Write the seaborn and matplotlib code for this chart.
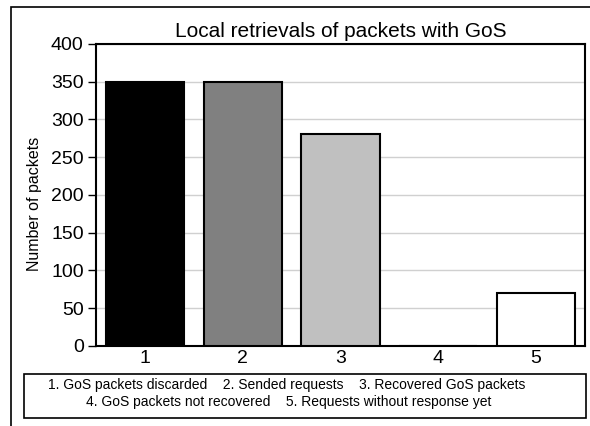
import matplotlib
matplotlib.use("Agg")
import matplotlib.pyplot as plt
import seaborn as sns
import pandas as pd
from matplotlib.patches import Rectangle

categories = ["1", "2", "3", "4", "5"]
values = [350, 350, 280, 0, 70]
colors = ["#000000", "#808080", "#c0c0c0", "#ffffff", "#ffffff"]
yticks = [0, 50, 100, 150, 200, 250, 300, 350, 400]
legend_lines = ["1. GoS packets discarded    2. Sended requests    3. Recovered GoS packets",
                "4. GoS packets not recovered    5. Requests without response yet"]

sns.set_style("white")
plt.rcParams['font.family'] = ['Liberation Sans', 'DejaVu Sans']
plt.rcParams['text.color'] = 'black'
plt.rcParams['axes.labelcolor'] = 'black'
plt.rcParams['xtick.color'] = 'black'
plt.rcParams['ytick.color'] = 'black'

fig = plt.figure(figsize=(5.9, 4.26), dpi=100)
ax = fig.add_axes([0.163, 0.188, 0.8285, 0.709])

df = pd.DataFrame({"cat": categories, "val": values})
sns.barplot(data=df, x="cat", y="val", hue="cat", palette=colors, legend=False,
            width=0.8, edgecolor="black", linewidth=1.5, saturation=1, ax=ax, zorder=3)

ax.set_ylim(0, 400)
ax.set_yticks(yticks)
ax.set_yticklabels([str(t) for t in yticks], fontsize=14)
ax.set_xticks(range(len(categories)))
ax.set_xticklabels(categories, fontsize=14)
ax.set_xlim(-0.5, 4.5)
ax.yaxis.grid(True, color="#d0d0d0", linewidth=1, zorder=0)
ax.set_axisbelow(True)
ax.tick_params(axis="y", direction="out", length=6, width=1, left=True, pad=3, colors="black")
ax.tick_params(axis="x", length=0, pad=3)
for s in ax.spines.values():
    s.set_linewidth(1.5)
    s.set_color("black")
ax.set_xlabel("")
ax.set_ylabel("Number of packets", fontsize=11.5)
ax.yaxis.set_label_coords(-0.11, 0.47)
ax.set_title("Local retrievals of packets with GoS", fontsize=15, pad=5)

# legend box
fig.patches.append(Rectangle((24/590, 1-418/426), 562/590, 44/426, transform=fig.transFigure,
                             fill=False, edgecolor="black", linewidth=1.2))
fig.text(287/590, 1-385/426, legend_lines[0], ha="center", va="center", fontsize=10)
fig.text(289/590, 1-402/426, legend_lines[1], ha="center", va="center", fontsize=10)

# outer frame
fig.patches.append(Rectangle((11/590, -0.1), 1.2, 1-7/426+0.1, transform=fig.transFigure,
                             fill=False, edgecolor="black", linewidth=1.2))

fig.savefig("out.png", dpi=100)
